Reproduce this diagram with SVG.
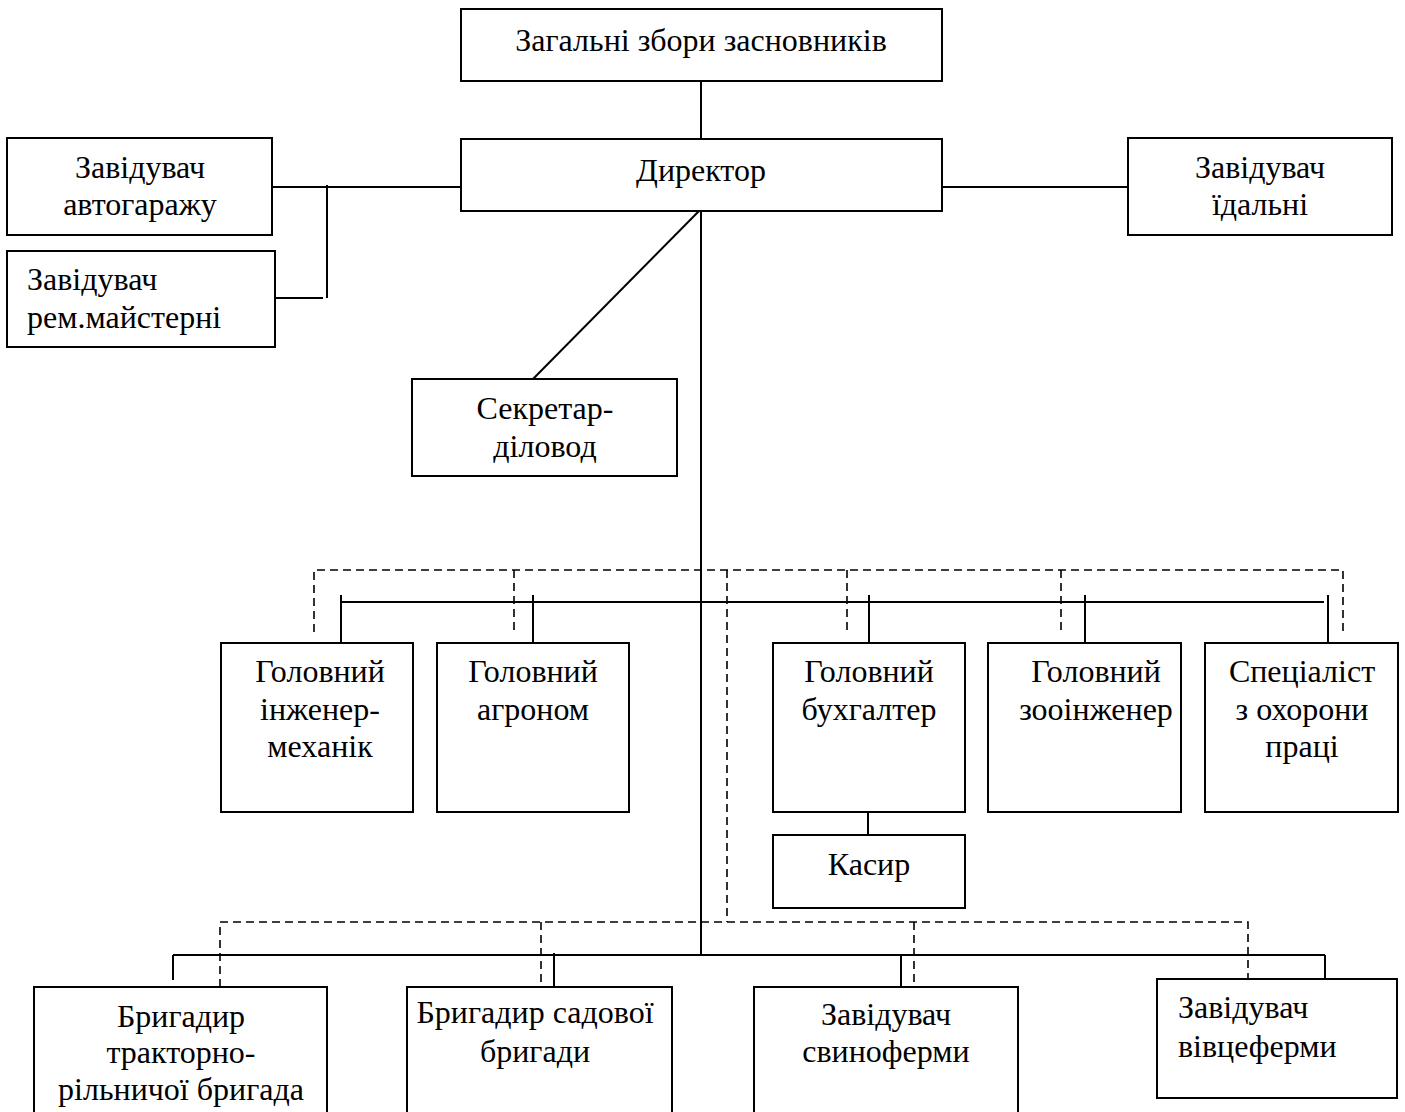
<svg xmlns="http://www.w3.org/2000/svg" width="1405" height="1112" viewBox="0 0 1405 1112">
<style>
.box{fill:#fff;stroke:#000;stroke-width:2}
.ln{fill:none;stroke:#000;stroke-width:2}
.ds{fill:none;stroke:#000;stroke-width:1.6;stroke-dasharray:8 5}
text{font-family:"Liberation Serif","Times New Roman",serif;font-size:32px;fill:#000}
.c{text-anchor:middle}
</style>
<rect width="1405" height="1112" fill="#fff"/>
<g id="connectors">
<line class="ln" x1="701" y1="81" x2="701" y2="139"/>
<line class="ln" x1="701" y1="211" x2="701" y2="955"/>
<line class="ln" x1="272" y1="187" x2="461" y2="187"/>
<line class="ln" x1="327" y1="185" x2="327" y2="298"/>
<line class="ln" x1="275" y1="298" x2="323" y2="298"/>
<line class="ln" x1="942" y1="187" x2="1128" y2="187"/>
<line class="ln" x1="699" y1="211" x2="533" y2="379"/>
<line class="ln" x1="341" y1="602" x2="1324" y2="602"/>
<line class="ln" x1="341" y1="595" x2="341" y2="643"/>
<line class="ln" x1="533" y1="595" x2="533" y2="643"/>
<line class="ln" x1="869" y1="595" x2="869" y2="643"/>
<line class="ln" x1="1085" y1="595" x2="1085" y2="643"/>
<line class="ln" x1="1328" y1="595" x2="1328" y2="643"/>
<line class="ln" x1="868" y1="812" x2="868" y2="835"/>
<line class="ln" x1="173" y1="955" x2="1325" y2="955"/>
<line class="ln" x1="173" y1="955" x2="173" y2="980"/>
<line class="ln" x1="554" y1="953" x2="554" y2="987"/>
<line class="ln" x1="901" y1="955" x2="901" y2="987"/>
<line class="ln" x1="1325" y1="955" x2="1325" y2="979"/>
<path class="ds" d="M314 632V570H1343V632"/>
<line class="ds" x1="514" y1="570" x2="514" y2="632"/>
<line class="ds" x1="847" y1="570" x2="847" y2="632"/>
<line class="ds" x1="1061" y1="570" x2="1061" y2="632"/>
<line class="ds" x1="727" y1="570" x2="727" y2="922"/>
<path class="ds" d="M220 987V922H1248V983"/>
<line class="ds" x1="541" y1="922" x2="541" y2="987"/>
<line class="ds" x1="914" y1="922" x2="914" y2="987"/>
</g>
<g id="n-zbory"><rect class="box" x="461" y="9" width="481" height="72"/><text class="c" x="701" y="51">Загальні збори засновників</text></g>
<g id="n-dyrektor"><rect class="box" x="461" y="139" width="481" height="72"/><text class="c" x="701" y="181">Директор</text></g>
<g id="n-avtogarazh"><rect class="box" x="7" y="138" width="265" height="97"/><text class="c" x="140" y="178">Завідувач</text><text class="c" x="140" y="215">автогаражу</text></g>
<g id="n-maisterni"><rect class="box" x="7" y="251" width="268" height="96"/><text x="27" y="290">Завідувач</text><text x="27" y="328">рем.майстерні</text></g>
<g id="n-idalni"><rect class="box" x="1128" y="138" width="264" height="97"/><text class="c" x="1260" y="178">Завідувач</text><text class="c" x="1260" y="215">їдальні</text></g>
<g id="n-sekretar"><rect class="box" x="412" y="379" width="265" height="97"/><text class="c" x="545" y="419">Секретар-</text><text class="c" x="545" y="457">діловод</text></g>
<g id="n-inzhener"><rect class="box" x="221" y="643" width="192" height="169"/><text class="c" x="320" y="682">Головний</text><text class="c" x="320" y="720">інженер-</text><text class="c" x="320" y="757">механік</text></g>
<g id="n-agronom"><rect class="box" x="437" y="643" width="192" height="169"/><text class="c" x="533" y="682">Головний</text><text class="c" x="533" y="720">агроном</text></g>
<g id="n-buhgalter"><rect class="box" x="773" y="643" width="192" height="169"/><text class="c" x="869" y="682">Головний</text><text class="c" x="869" y="720">бухгалтер</text></g>
<g id="n-zooinzhener"><rect class="box" x="988" y="643" width="193" height="169"/><text class="c" x="1096" y="682">Головний</text><text class="c" x="1096" y="720">зооінженер</text></g>
<g id="n-okhorona"><rect class="box" x="1205" y="643" width="193" height="169"/><text class="c" x="1302" y="682">Спеціаліст</text><text class="c" x="1302" y="720">з охорони</text><text class="c" x="1302" y="757">праці</text></g>
<g id="n-kasyr"><rect class="box" x="773" y="835" width="192" height="73"/><text class="c" x="869" y="875">Касир</text></g>
<g id="n-traktorna"><rect class="box" x="34" y="987" width="293" height="140"/><text class="c" x="181" y="1027">Бригадир</text><text class="c" x="181" y="1063">тракторно-</text><text class="c" x="181" y="1100">рільничої бригада</text></g>
<g id="n-sadova"><rect class="box" x="407" y="987" width="265" height="140"/><text class="c" x="535" y="1023">Бригадир садової</text><text class="c" x="535" y="1062">бригади</text></g>
<g id="n-svynoferma"><rect class="box" x="754" y="987" width="264" height="140"/><text class="c" x="886" y="1025">Завідувач</text><text class="c" x="886" y="1062">свиноферми</text></g>
<g id="n-vivtseferma"><rect class="box" x="1157" y="979" width="240" height="119"/><text x="1178" y="1018">Завідувач</text><text x="1178" y="1057">вівцеферми</text></g>
</svg>
